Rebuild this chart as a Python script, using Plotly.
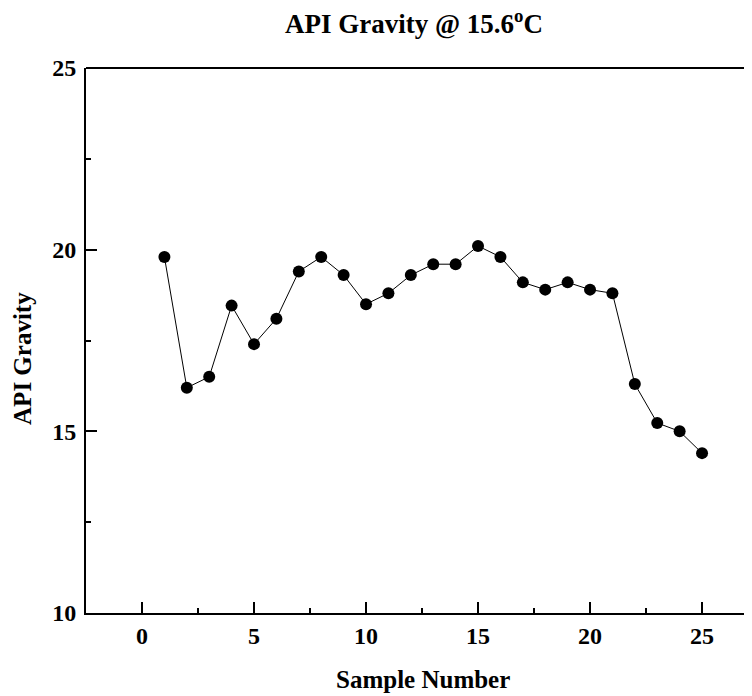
import plotly.graph_objects as go

sample_number = list(range(1, 26))
api_gravity = [19.8, 16.2, 16.5, 18.46, 17.4, 18.1, 19.4, 19.8, 19.3, 18.5,
               18.8, 19.3, 19.6, 19.6, 20.1, 19.8, 19.1, 18.9, 19.1, 18.9,
               18.8, 16.3, 15.23, 15.0, 14.4]

title_text = "API Gravity @ 15.6<sup>o</sup>C"
x_title = "Sample Number"
y_title = "API Gravity"

FONT = "Liberation Serif"

fig = go.Figure()
fig.add_trace(go.Scatter(
    x=sample_number, y=api_gravity, mode="lines+markers",
    line=dict(color="black", width=1),
    marker=dict(color="black", size=12, line=dict(width=0)),
    showlegend=False,
))

axis_common = dict(
    showline=True, linecolor="black", linewidth=2,
    ticks="inside", ticklen=11, tickwidth=2, tickcolor="black",
    showgrid=False, zeroline=False, automargin=False,
    tickfont=dict(family=FONT, size=24, color="black", weight="bold"),
    minor=dict(ticks="inside", ticklen=5, tickwidth=2, tickcolor="black", dtick=2.5),
)

fig.update_xaxes(range=[-2.5, 27.23], dtick=5, tick0=0, ticklabelstandoff=0, **axis_common)
fig.update_yaxes(range=[10, 25], dtick=5, tick0=10, ticklabelstandoff=3, **axis_common)

fig.add_shape(type="line", xref="paper", yref="paper", x0=0, x1=1, y0=1, y1=1,
              line=dict(color="black", width=2))

fig.add_annotation(text=title_text, xref="paper", yref="paper", x=0.492, y=1.0844,
                   xanchor="center", yanchor="middle", showarrow=False,
                   font=dict(family=FONT, size=27, color="black", weight="bold"))
fig.add_annotation(text=x_title, xref="paper", yref="paper", x=0.506, y=-0.1223,
                   xanchor="center", yanchor="middle", showarrow=False,
                   font=dict(family=FONT, size=25, color="black", weight="bold"))
fig.add_annotation(text=y_title, xref="paper", yref="paper", x=-0.0946, y=0.468,
                   xanchor="center", yanchor="middle", showarrow=False, textangle=-90,
                   font=dict(family=FONT, size=25, color="black", weight="bold"))

fig.update_layout(
    width=744, height=688,
    margin=dict(l=78, r=0, t=60, b=83),
    paper_bgcolor="white", plot_bgcolor="white",
)

fig.write_html("out.html")
